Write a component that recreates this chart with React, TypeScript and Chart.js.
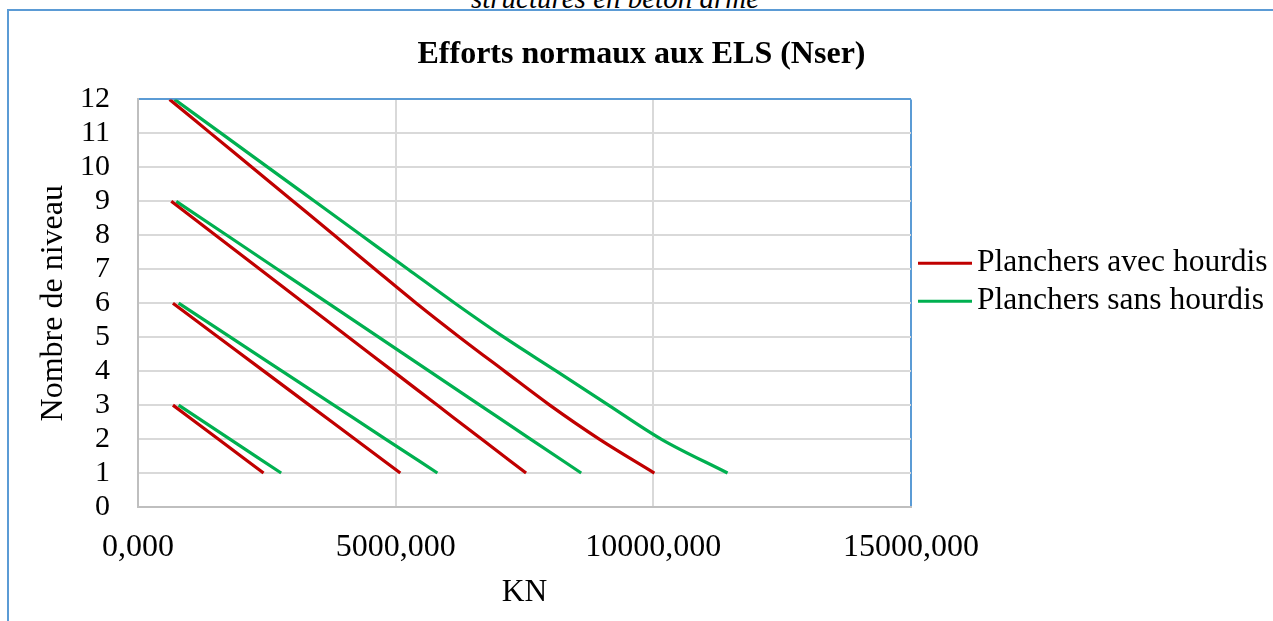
import React, { useEffect, useRef } from 'react';
import { Chart, registerables } from 'chart.js';

Chart.register(...registerables);

const CAPTION = 'structures en béton armé';
const TITLE = 'Efforts normaux aux ELS (Nser)';
const X_LABEL = 'KN';
const Y_LABEL = 'Nombre de niveau';
const SERIES_NAMES = ['Planchers avec hourdis', 'Planchers sans hourdis'];

// Levels (y values) for the 3, 6, 9 and 12 storey buildings
const levels3 = [3, 2, 1];
const levels6 = [6, 5, 4, 3, 2, 1];
const levels9 = [9, 8, 7, 6, 5, 4, 3, 2, 1];
const levels12 = [12, 11, 10, 9, 8, 7, 6, 5, 4, 3, 2, 1];

// Planchers avec hourdis (KN)
const avec3 = [678, 1556, 2436];
const avec6 = [678, 1560, 2442, 3325, 4207, 5090];
const avec9 = [646, 1506, 2366, 3226, 4086, 4946, 5806, 6666, 7530];
const avec12 = [613, 1412, 2211, 3010, 3809, 4600, 5400, 6240, 7112, 7990, 8950, 10020];

// Planchers sans hourdis (KN)
const sans3 = [788, 1783, 2778];
const sans6 = [788, 1792, 2796, 3800, 4804, 5810];
const sans9 = [742, 1724, 2706, 3688, 4670, 5652, 6634, 7616, 8600];
const sans12 = [710, 1616, 2522, 3428, 4334, 5240, 6150, 7100, 8120, 9130, 10150, 11440];

const X_MIN = 0;
const X_MAX = 15000;
const X_STEP = 5000;
const Y_MIN = 0;
const Y_MAX = 12;
const Y_STEP = 1;

const RED = '#C00000';
const GREEN = '#00B050';
const BLUE = '#5B9BD5';
const GRID = '#D9D9D9';
const AXIS = '#BFBFBF';
const SERIF = '"Liberation Serif", "Times New Roman", serif';

type Pt = { x: number | null; y: number | null };

function build(groups: [number[], number[]][]): Pt[] {
  const out: Pt[] = [];
  groups.forEach(([xs, ys], gi) => {
    if (gi > 0) out.push({ x: null, y: null });
    xs.forEach((v, i) => out.push({ x: v, y: ys[i] }));
  });
  return out;
}

const fmtX = (v: number) => Number(v).toFixed(3).replace('.', ',');

const sideLegend = {
  id: 'sideLegend',
  afterDraw(chart: any) {
    const { ctx, chartArea } = chart;
    const x0 = chartArea.right + 7;
    const midY = (chartArea.top + chartArea.bottom) / 2 - 21;
    const n = chart.data.datasets.length;
    chart.data.datasets.forEach((ds: any, i: number) => {
      const y = midY + (i - (n - 1) / 2) * 38;
      ctx.save();
      ctx.strokeStyle = ds.borderColor;
      ctx.lineWidth = 3;
      ctx.beginPath();
      ctx.moveTo(x0, y);
      ctx.lineTo(x0 + 54, y);
      ctx.stroke();
      ctx.fillStyle = '#000';
      ctx.font = `31.5px ${SERIF}`;
      ctx.textBaseline = 'middle';
      ctx.textAlign = 'left';
      ctx.fillText(ds.label, x0 + 59, y);
      ctx.restore();
    });
  },
};

export default function App() {
  const ref = useRef<HTMLCanvasElement | null>(null);

  useEffect(() => {
    if (!ref.current) return;
    const chart = new Chart(ref.current, {
      type: 'line',
      data: {
        datasets: [
          {
            label: SERIES_NAMES[0],
            data: build([
              [avec3, levels3],
              [avec6, levels6],
              [avec9, levels9],
              [avec12, levels12],
            ]) as any,
            borderColor: RED,
            backgroundColor: RED,
            borderWidth: 3.2,
            pointRadius: 0,
            cubicInterpolationMode: 'monotone',
            spanGaps: false,
          },
          {
            label: SERIES_NAMES[1],
            data: build([
              [sans3, levels3],
              [sans6, levels6],
              [sans9, levels9],
              [sans12, levels12],
            ]) as any,
            borderColor: GREEN,
            backgroundColor: GREEN,
            borderWidth: 3.2,
            pointRadius: 0,
            cubicInterpolationMode: 'monotone',
            spanGaps: false,
          },
        ],
      },
      options: {
        animation: false,
        responsive: false,
        events: [],
        layout: { padding: 0 },
        plugins: {
          legend: { display: false },
          tooltip: { enabled: false },
          title: {
            display: true,
            text: TITLE,
            color: '#000',
            font: { family: SERIF, size: 32, weight: 'bold' },
            padding: { top: 24, bottom: 25 },
          },
        },
        scales: {
          x: {
            type: 'linear',
            min: X_MIN,
            max: X_MAX,
            ticks: {
              stepSize: X_STEP,
              autoSkip: false,
              maxRotation: 0,
              color: '#000',
              padding: 21,
              font: { family: SERIF, size: 32 },
              callback: (v: any) => fmtX(v),
            },
            grid: {
              drawTicks: false,
              lineWidth: 2,
              color: (c: any) => (c.tick && c.tick.value === X_MAX ? BLUE : GRID),
            },
            border: { color: AXIS, width: 2 },
            title: {
              display: true,
              text: X_LABEL,
              color: '#000',
              font: { family: SERIF, size: 31.5 },
              padding: { top: 8, bottom: 9 },
            },
            afterFit: (s: any) => {
              s.height = 114;
            },
          },
          y: {
            type: 'linear',
            min: Y_MIN,
            max: Y_MAX,
            ticks: {
              stepSize: Y_STEP,
              autoSkip: false,
              color: '#000',
              padding: 28,
              font: { family: SERIF, size: 30 },
            },
            grid: {
              drawTicks: false,
              lineWidth: 2,
              color: (c: any) => (c.tick && c.tick.value === Y_MAX ? BLUE : GRID),
            },
            border: { color: AXIS, width: 2 },
            title: {
              display: true,
              text: Y_LABEL,
              color: '#000',
              font: { family: SERIF, size: 32 },
              padding: { top: 24, bottom: 8 },
            },
            afterFit: (s: any) => {
              s.width = 128;
            },
          },
          legendSpace: {
            type: 'linear',
            axis: 'y',
            position: 'right',
            display: true,
            ticks: { display: false },
            grid: { display: false },
            border: { display: false },
            afterFit: (s: any) => {
              s.width = 362;
            },
          },
        },
      } as any,
      plugins: [sideLegend],
    });
    return () => chart.destroy();
  }, []);

  return (
    <div
      style={{
        position: 'fixed',
        left: 0,
        top: 0,
        width: 1273,
        height: 621,
        overflow: 'hidden',
        background: '#fff',
        fontFamily: SERIF,
      }}
    >
      <div
        style={{
          position: 'absolute',
          top: -16,
          left: 0,
          width: 1230,
          textAlign: 'center',
          fontStyle: 'italic',
          fontSize: 29,
          lineHeight: '29px',
          color: '#000',
        }}
      >
        {CAPTION}
      </div>
      <div
        style={{
          position: 'absolute',
          left: 7,
          top: 9,
          width: 1270,
          height: 620,
          borderLeft: `2px solid ${BLUE}`,
          borderTop: `2px solid ${BLUE}`,
          boxSizing: 'border-box',
        }}
      />
      <canvas
        ref={ref}
        width={1263}
        height={609}
        style={{ position: 'absolute', left: 10, top: 12, width: 1263, height: 609 }}
      />
    </div>
  );
}
